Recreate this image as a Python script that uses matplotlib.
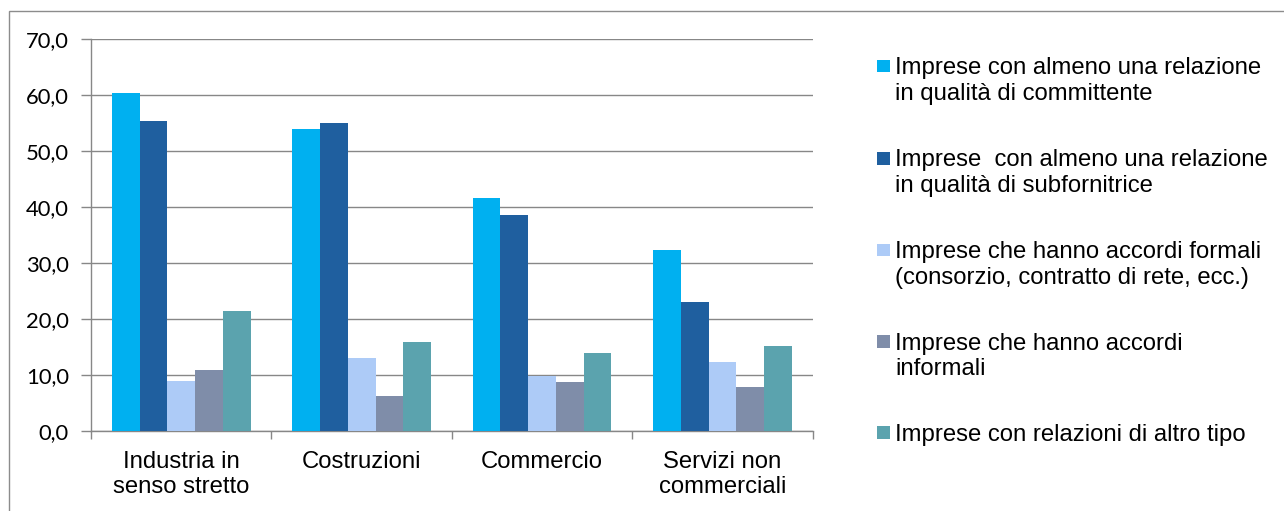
import matplotlib
matplotlib.use("Agg")
import matplotlib.pyplot as plt
from matplotlib.patches import Rectangle
import numpy as np

categories = ["Industria in\nsenso stretto", "Costruzioni", "Commercio", "Servizi non\ncommerciali"]
series_names = [
    "Imprese con almeno una relazione\nin qualità di committente",
    "Imprese  con almeno una relazione\nin qualità di subfornitrice",
    "Imprese che hanno accordi formali\n(consorzio, contratto di rete, ecc.)",
    "Imprese che hanno accordi\ninformali",
    "Imprese con relazioni di altro tipo",
]
committente = [60.4, 53.9, 41.7, 32.4]
subfornitrice = [55.4, 55.0, 38.6, 23.1]
accordi_formali = [9.0, 13.1, 9.8, 12.4]
accordi_informali = [10.9, 6.3, 8.8, 7.9]
altro_tipo = [21.5, 15.9, 14.0, 15.2]
series_values = [committente, subfornitrice, accordi_formali, accordi_informali, altro_tipo]
colors = ["#00B0F0", "#1F5F9F", "#ADCBF7", "#7F8DA9", "#5BA3AE"]
yticks = [0, 10, 20, 30, 40, 50, 60, 70]
ytick_labels = ["0,0", "10,0", "20,0", "30,0", "40,0", "50,0", "60,0", "70,0"]

W, H = 1284, 511
fig = plt.figure(figsize=(W / 100, H / 100), dpi=100)
ax = fig.add_axes([91 / W, 1 - 431.3 / H, (812.7 - 91) / W, (431.3 - 39.3) / H])

grid_c = "#878787"
n = len(series_values)
w = 1 / (n + 1.5)
x = np.arange(len(categories))
for j, (vals, c) in enumerate(zip(series_values, colors)):
    ax.bar(x + (j - (n - 1) / 2) * w, vals, width=w, color=c, zorder=3, linewidth=0)

ax.set_xlim(-0.5, len(categories) - 0.5)
ax.set_ylim(0, 70)
ax.set_yticks(yticks)
ax.set_yticklabels(ytick_labels, fontfamily="Lato", fontsize=15.8, color="black")
ax.yaxis.grid(True, color=grid_c, linewidth=1.0, zorder=0)
ax.set_xticks(x)
ax.set_xticklabels(categories, fontfamily="Liberation Sans", fontsize=17.2, linespacing=1.2)
ax.set_xticks(np.arange(-0.5, len(categories), 1.0), minor=True)
ax.tick_params(axis="x", which="major", length=0, pad=14)
ax.tick_params(axis="x", which="minor", length=6, width=1.0, color=grid_c, direction="out")
ax.tick_params(axis="y", length=7, width=1.0, color=grid_c, pad=9)
for s in ["top", "right"]:
    ax.spines[s].set_visible(False)
for s in ["left", "bottom"]:
    ax.spines[s].set_color(grid_c)
    ax.spines[s].set_linewidth(1.0)

# outer chart frame
fig.patches.append(Rectangle((9 / W, -0.1), 1.2, 1 - 10.5 / H + 0.1, transform=fig.transFigure,
                             fill=False, edgecolor="#8C8C8C", linewidth=1.0))

# legend (manual, handles aligned to first line)
leg_y = [66, 158.3, 250, 341.7, 432.7]
for name, c, yc in zip(series_names, colors, leg_y):
    fig.patches.append(Rectangle((877.3 / W, 1 - (yc + 6.3) / H), 12.7 / W, 12.7 / H,
                                 transform=fig.transFigure, facecolor=c, edgecolor="none"))
    fig.text(895 / W, 1 - (yc - 9) / H, name, fontfamily="Liberation Sans", fontsize=17.2,
             va="top", ha="left", linespacing=1.22)

fig.savefig("out.png", dpi=100)
